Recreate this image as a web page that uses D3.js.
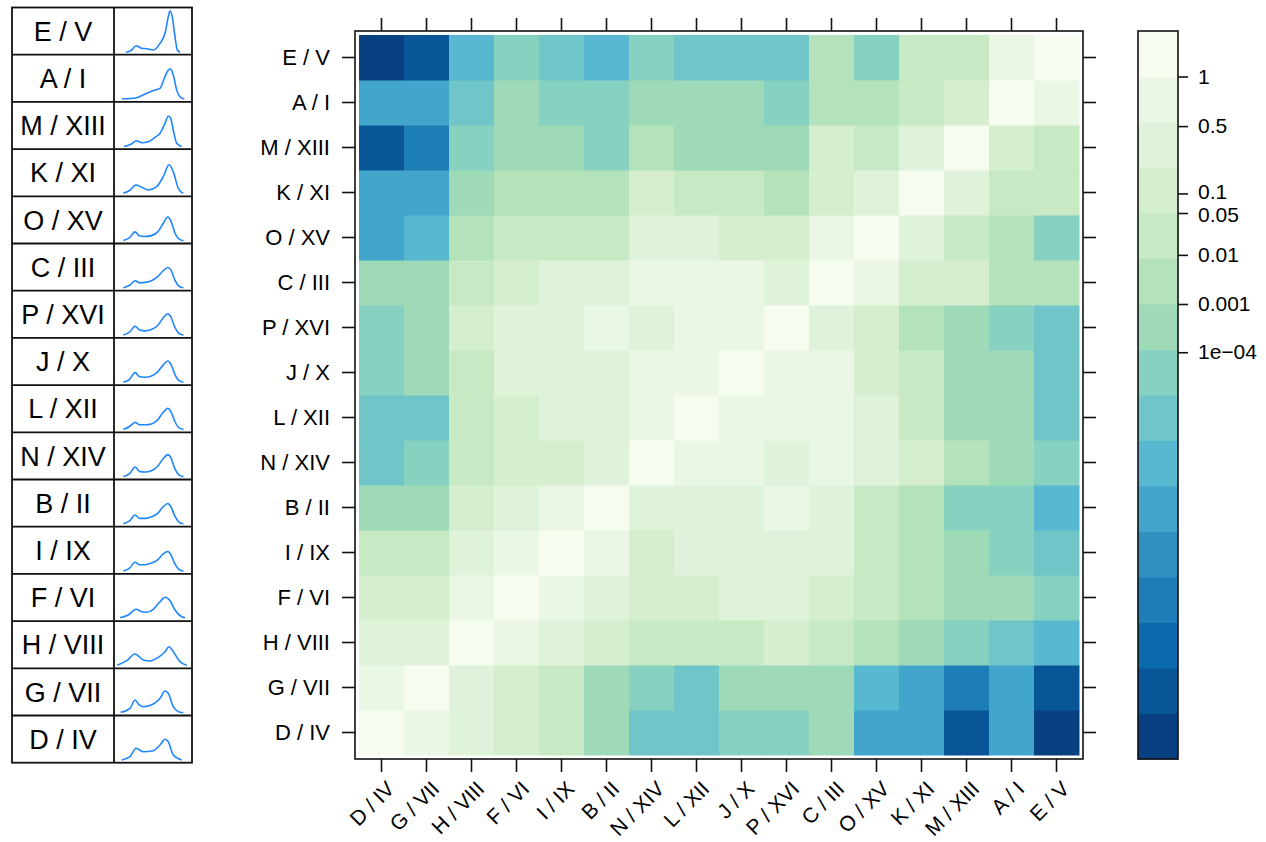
<!DOCTYPE html>
<html>
<head>
<meta charset="utf-8">
<script src="https://cdn.jsdelivr.net/npm/d3@7"></script>
<style>
  body { margin: 0; background: #fff; }
  svg { display: block; font-family: "Liberation Sans", Arial, Helvetica, sans-serif; }
</style>
</head>
<body>
<svg id="chart" width="1266" height="842"></svg>
<script>
// Variables, in axis order (x left-to-right, y bottom-to-top)
const variables = ["D / IV", "G / VII", "H / VIII", "F / VI", "I / IX", "B / II", "N / XIV", "L / XII",
                   "J / X", "P / XVI", "C / III", "O / XV", "K / XI", "M / XIII", "A / I", "E / V"];

// Level of each pair on the colour key (0 = darkest band at the bottom, 15 = lightest band at the top).
// One row per variable, in the same order as `variables`.
const levelDIV   = [15,14,13,12,11, 9, 7, 7, 8, 8, 9, 5, 5, 1, 5, 0];
const levelGVII  = [14,15,13,12,11, 9, 8, 7, 9, 9, 9, 6, 5, 3, 5, 1];
const levelHVIII = [13,13,15,14,13,12,11,11,11,12,11,10, 9, 8, 7, 6];
const levelFVI   = [12,12,14,15,14,13,12,12,13,13,12,11,10, 9, 9, 8];
const levelIIX   = [11,11,13,14,15,14,12,13,13,13,13,11,10, 9, 8, 7];
const levelBII   = [ 9, 9,12,13,14,15,13,13,13,14,13,11,10, 8, 8, 6];
const levelNXIV  = [ 7, 8,11,12,12,13,15,14,14,13,14,13,12,10, 9, 8];
const levelLXII  = [ 7, 7,11,12,13,13,14,15,14,14,14,13,11, 9, 9, 7];
const levelJX    = [ 8, 9,11,13,13,13,14,14,15,14,14,12,11, 9, 9, 7];
const levelPXVI  = [ 8, 9,12,13,13,14,13,14,14,15,13,12,10, 9, 8, 7];
const levelCIII  = [ 9, 9,11,12,13,13,14,14,14,13,15,14,12,12,10,10];
const levelOXV   = [ 5, 6,10,11,11,11,13,13,12,12,14,15,13,11,10, 8];
const levelKXI   = [ 5, 5, 9,10,10,10,12,11,11,10,12,13,15,13,11,11];
const levelMXIII = [ 1, 3, 8, 9, 9, 8,10, 9, 9, 9,12,11,13,15,12,11];
const levelAI    = [ 5, 5, 7, 9, 8, 8, 9, 9, 9, 8,10,10,11,12,15,14];
const levelEV    = [ 0, 1, 6, 8, 7, 6, 8, 7, 7, 7,10, 8,11,11,14,15];

// Colour key labels and where they sit on the level axis
const keyTickLabels = ["1", "0.5", "0.1", "0.05", "0.01", "0.001", "1e\u221204"];
const keyTickLevels = [14.5, 13.41, 11.93, 11.5, 10.58, 9.5, 8.44];

// Density outlines for the side table: [position, density] pairs (both relative, 0..1)
const densityEV    = [[0.154,0.00],[0.22,0.04],[0.282,0.157],[0.355,0.094],[0.419,0.084],[0.504,0.053],[0.59,0.214],[0.654,0.455],[0.696,0.855],[0.718,1.00],[0.747,0.855],[0.782,0.373],[0.812,0.053],[0.846,0.00]];
const densityAI    = [[0.099,0.01],[0.291,0.041],[0.419,0.147],[0.526,0.227],[0.59,0.267],[0.654,0.547],[0.696,0.708],[0.727,0.733],[0.76,0.588],[0.804,0.227],[0.846,0.065],[0.901,0.01]];
const densityMXIII = [[0.128,0.00],[0.21,0.05],[0.291,0.142],[0.355,0.094],[0.44,0.118],[0.526,0.224],[0.59,0.32],[0.654,0.561],[0.696,0.737],[0.727,0.682],[0.76,0.40],[0.804,0.08],[0.868,0.00]];
const densityKXI   = [[0.119,0.012],[0.20,0.08],[0.282,0.212],[0.355,0.157],[0.44,0.092],[0.547,0.171],[0.632,0.412],[0.705,0.701],[0.76,0.533],[0.824,0.133],[0.888,0.012]];
const densityOXV   = [[0.12,0.01],[0.20,0.08],[0.27,0.22],[0.33,0.12],[0.40,0.11],[0.48,0.13],[0.56,0.22],[0.63,0.42],[0.69,0.58],[0.73,0.48],[0.78,0.20],[0.84,0.04],[0.89,0.01]];
const densityCIII  = [[0.12,0.01],[0.20,0.07],[0.27,0.18],[0.33,0.13],[0.40,0.14],[0.48,0.18],[0.56,0.28],[0.63,0.42],[0.69,0.50],[0.73,0.44],[0.78,0.20],[0.84,0.04],[0.89,0.01]];
const densityPXVI  = [[0.12,0.01],[0.20,0.08],[0.27,0.22],[0.33,0.13],[0.40,0.11],[0.48,0.14],[0.56,0.24],[0.63,0.42],[0.69,0.52],[0.73,0.44],[0.78,0.20],[0.84,0.04],[0.89,0.01]];
const densityJX    = [[0.12,0.01],[0.20,0.08],[0.27,0.24],[0.33,0.14],[0.40,0.13],[0.48,0.16],[0.56,0.26],[0.63,0.42],[0.69,0.52],[0.73,0.44],[0.78,0.20],[0.84,0.04],[0.89,0.01]];
const densityLXII  = [[0.12,0.01],[0.20,0.08],[0.27,0.18],[0.33,0.12],[0.40,0.12],[0.48,0.14],[0.56,0.24],[0.63,0.42],[0.69,0.52],[0.73,0.44],[0.78,0.20],[0.84,0.04],[0.89,0.01]];
const densityNXIV  = [[0.12,0.01],[0.20,0.08],[0.27,0.24],[0.33,0.13],[0.40,0.12],[0.48,0.15],[0.56,0.26],[0.63,0.44],[0.69,0.54],[0.73,0.46],[0.78,0.20],[0.84,0.04],[0.89,0.01]];
const densityBII   = [[0.12,0.01],[0.20,0.08],[0.27,0.22],[0.33,0.14],[0.40,0.14],[0.48,0.18],[0.56,0.26],[0.63,0.42],[0.69,0.50],[0.73,0.42],[0.78,0.20],[0.84,0.04],[0.89,0.01]];
const densityIIX   = [[0.12,0.01],[0.20,0.08],[0.27,0.22],[0.33,0.16],[0.40,0.16],[0.48,0.20],[0.56,0.28],[0.63,0.42],[0.69,0.48],[0.73,0.40],[0.78,0.18],[0.84,0.04],[0.89,0.01]];
const densityFVI   = [[0.077,0.022],[0.183,0.087],[0.282,0.224],[0.355,0.166],[0.419,0.152],[0.504,0.224],[0.59,0.407],[0.654,0.513],[0.718,0.431],[0.782,0.207],[0.868,0.046],[0.91,0.02]];
const densityHVIII = [[0.042,0.012],[0.163,0.123],[0.269,0.284],[0.376,0.14],[0.462,0.116],[0.568,0.205],[0.654,0.34],[0.705,0.46],[0.76,0.34],[0.846,0.10],[0.932,0.012]];
const densityGVII  = [[0.086,0.017],[0.205,0.113],[0.269,0.313],[0.324,0.193],[0.376,0.152],[0.504,0.217],[0.59,0.354],[0.654,0.53],[0.696,0.475],[0.76,0.152],[0.846,0.017],[0.888,0.01]];
const densityDIV   = [[0.099,0.005],[0.205,0.084],[0.282,0.287],[0.376,0.205],[0.504,0.229],[0.59,0.366],[0.654,0.504],[0.696,0.446],[0.76,0.125],[0.868,0.005]];

const levels = [levelDIV, levelGVII, levelHVIII, levelFVI, levelIIX, levelBII, levelNXIV, levelLXII,
                levelJX, levelPXVI, levelCIII, levelOXV, levelKXI, levelMXIII, levelAI, levelEV];
const densities = [densityDIV, densityGVII, densityHVIII, densityFVI, densityIIX, densityBII, densityNXIV, densityLXII,
                   densityJX, densityPXVI, densityCIII, densityOXV, densityKXI, densityMXIII, densityAI, densityEV];

const svg = d3.select("#chart");
const fontStack = '"Liberation Sans", Arial, Helvetica, sans-serif';

// ---- colours: GnBu ramp stretched over 16 bands, darkest first ----
const gnbu = ["#f7fcf0","#e0f3db","#ccebc5","#a8ddb5","#7bccc4","#4eb3d3","#2b8cbe","#0868ac","#084081"];
const ramp = d3.piecewise(d3.interpolateRgb, gnbu);
const bandColors = d3.range(16).map(i => ramp(i / 15)).reverse();
const color = d3.scaleQuantize().domain([-0.5, 15.5]).range(bandColors);

// ---- heat map ----
const frame = { left: 355, top: 31, right: 1083, bottom: 759 };
const inset = 4;
const x = d3.scaleBand().domain(variables).range([frame.left + inset, frame.right - inset]);
const y = d3.scaleBand().domain(variables).range([frame.bottom - inset, frame.top + inset]);

const cells = [];
levels.forEach((row, i) => row.forEach((v, j) => cells.push({ row: variables[i], col: variables[j], v })));

svg.append("g").selectAll("rect").data(cells).join("rect")
  .attr("x", d => x(d.col))
  .attr("y", d => y(d.row))
  .attr("width", x.bandwidth() + 0.5)
  .attr("height", y.bandwidth() + 0.5)
  .attr("fill", d => color(d.v));

svg.append("rect")
  .attr("x", frame.left).attr("y", frame.top)
  .attr("width", frame.right - frame.left).attr("height", frame.bottom - frame.top)
  .attr("fill", "none").attr("stroke", "#111").attr("stroke-width", 1.6);

const tick = 13;
function styleAxis(g, size) {
  g.select(".domain").remove();
  g.selectAll(".tick line").attr("stroke", "#111").attr("stroke-width", 1.6);
  g.selectAll(".tick text").attr("fill", "#000").attr("font-size", size || 22)
    .attr("font-family", fontStack);
}

svg.append("g").attr("transform", `translate(${frame.left},0)`)
  .call(d3.axisLeft(y).tickSize(tick).tickPadding(12))
  .call(styleAxis);
svg.append("g").attr("transform", `translate(${frame.right},0)`)
  .call(d3.axisRight(y).tickSize(tick).tickFormat(""))
  .call(styleAxis);
svg.append("g").attr("transform", `translate(0,${frame.top})`)
  .call(d3.axisTop(x).tickSize(tick).tickFormat(""))
  .call(styleAxis);
const bottomAxis = svg.append("g").attr("transform", `translate(0,${frame.bottom})`)
  .call(d3.axisBottom(x).tickSize(tick))
  .call(g => styleAxis(g, 21));
bottomAxis.selectAll(".tick text")
  .attr("text-anchor", "end")
  .attr("dy", "0.35em")
  .attr("transform", `translate(9,${tick + 13}) rotate(-45)`)
  .attr("y", 0);

// ---- colour key ----
const key = { left: 1138, right: 1178, top: 31, bottom: 759 };
const keyY = d3.scaleLinear().domain([-0.5, 15.5]).range([key.bottom, key.top]);
svg.append("g").selectAll("rect").data(d3.range(16)).join("rect")
  .attr("x", key.left)
  .attr("y", d => keyY(d + 0.5))
  .attr("width", key.right - key.left)
  .attr("height", d => keyY(d - 0.5) - keyY(d + 0.5) + 0.5)
  .attr("fill", d => color(d));
svg.append("rect")
  .attr("x", key.left).attr("y", key.top)
  .attr("width", key.right - key.left).attr("height", key.bottom - key.top)
  .attr("fill", "none").attr("stroke", "#111").attr("stroke-width", 1.6);
const keyAxis = svg.append("g").attr("transform", `translate(${key.right},0)`)
  .call(d3.axisRight(keyY).tickValues(keyTickLevels).tickFormat((d, i) => keyTickLabels[i]).tickSize(10).tickPadding(10))
  .call(g => styleAxis(g, 21));
// the two close labels (0.1 and 0.05) are nudged apart slightly
keyAxis.selectAll(".tick text").attr("y", (d, i) => i === 2 ? -2 : i === 3 ? 2 : 0);

// ---- side table: name and density outline for each variable ----
const table = { left: 12, mid: 114, right: 192, top: 7.5, bottom: 762.7 };
const rowsTopDown = variables.slice().reverse();
const rowY = d3.scaleBand().domain(rowsTopDown).range([table.top, table.bottom]);
const tbl = svg.append("g");

tbl.selectAll("text").data(rowsTopDown).join("text")
  .attr("x", (table.left + table.mid) / 2)
  .attr("y", d => rowY(d) + rowY.bandwidth() / 2)
  .attr("dy", "0.36em")
  .attr("text-anchor", "middle")
  .attr("font-size", 27)
  .text(d => d);

const dx = d3.scaleLinear().domain([0, 1]).range([table.mid, table.right]);
const dy = d3.scaleLinear().domain([0, 1]).range([rowY.bandwidth() - 2.5, 3.2]);
const line = d3.line().x(p => dx(p[0])).y(p => dy(p[1])).curve(d3.curveMonotoneX);
tbl.selectAll("path.density").data(rowsTopDown).join("path")
  .attr("class", "density")
  .attr("transform", d => `translate(0,${rowY(d)})`)
  .attr("d", d => line(densities[variables.indexOf(d)]))
  .attr("fill", "none")
  .attr("stroke", "#1f86ff")
  .attr("stroke-width", 1.6);

// grid lines of the table
const gridColor = "#111";
tbl.append("rect")
  .attr("x", table.left).attr("y", table.top)
  .attr("width", table.right - table.left).attr("height", table.bottom - table.top)
  .attr("fill", "none").attr("stroke", gridColor).attr("stroke-width", 1.8);
tbl.append("line")
  .attr("x1", table.mid).attr("x2", table.mid)
  .attr("y1", table.top).attr("y2", table.bottom)
  .attr("stroke", gridColor).attr("stroke-width", 1.8);
tbl.selectAll("line.sep").data(rowsTopDown.slice(1)).join("line")
  .attr("class", "sep")
  .attr("x1", table.left).attr("x2", table.right)
  .attr("y1", d => rowY(d)).attr("y2", d => rowY(d))
  .attr("stroke", gridColor).attr("stroke-width", 1.8);
</script>
</body>
</html>
